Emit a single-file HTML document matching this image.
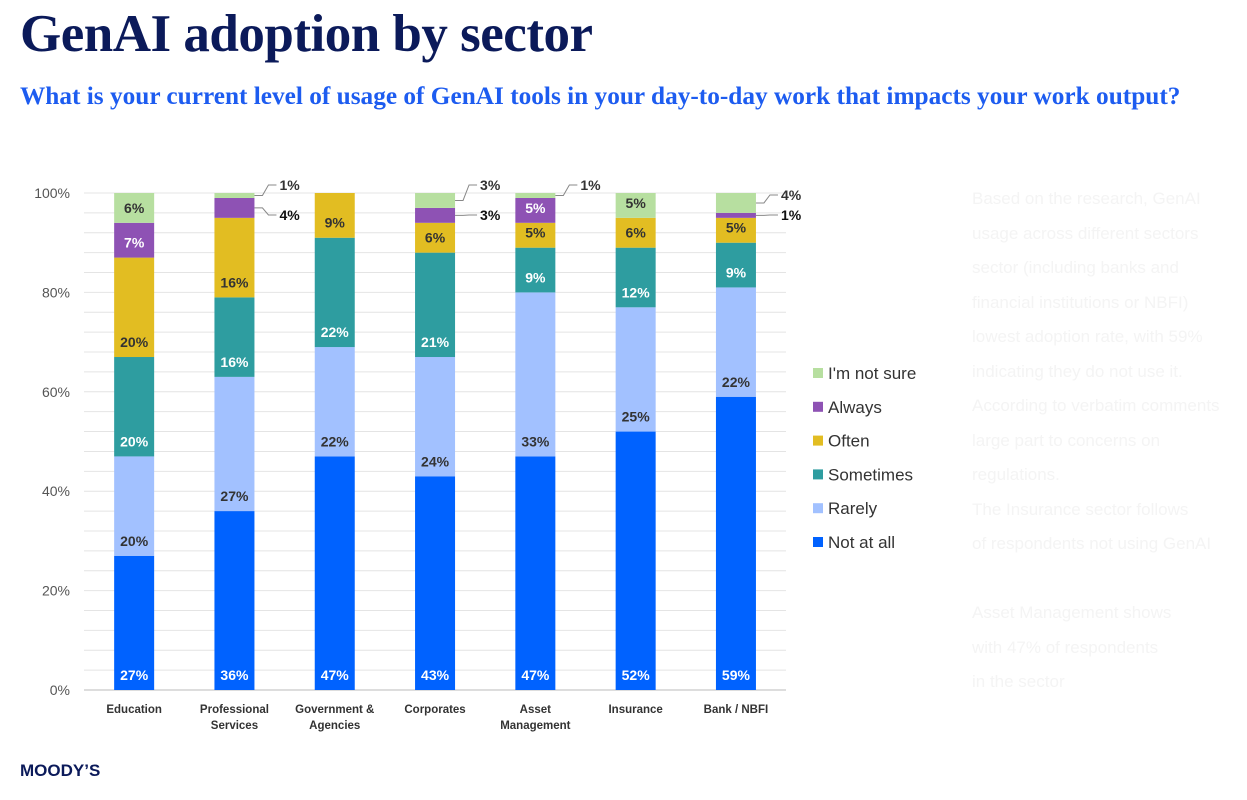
<!DOCTYPE html>
<html><head><meta charset="utf-8">
<style>
body{margin:0;width:1247px;height:800px;background:#fff;overflow:hidden;position:relative;font-family:"Liberation Sans",sans-serif}
#title{position:absolute;left:20px;top:4px;font:bold 53px "Liberation Serif",serif;color:#0b1a5a;letter-spacing:-0.5px}
#sub{position:absolute;left:20px;top:82px;font:bold 25.3px "Liberation Serif",serif;color:#1d5cf0}
#logo{position:absolute;left:20px;top:761px;font:bold 17px "Liberation Sans",sans-serif;color:#0b1a5a}
#side{position:absolute;left:972px;top:182px;width:290px;color:#f4f4f4;font-size:17px;line-height:34.5px;white-space:nowrap}
</style></head><body>
<div id="title">GenAI adoption by sector</div>
<div id="sub">What is your current level of usage of GenAI tools in your day-to-day work that impacts your work output?</div>
<div id="side">Based on the research, GenAI<br>usage across different sectors<br>sector (including banks and<br>financial institutions or NBFI)<br>lowest adoption rate, with 59%<br>indicating they do not use it.<br>According to verbatim comments<br>large part to concerns on<br>regulations.<br>The Insurance sector follows<br>of respondents not using GenAI<br><br>Asset Management shows<br>with 47% of respondents<br>in the sector</div>
<svg id="chart" width="1247" height="800" style="position:absolute;left:0;top:0"></svg>
<div id="logo">MOODY’S</div>
<script>
const categories=[["Education"],["Professional","Services"],["Government &","Agencies"],["Corporates"],["Asset","Management"],["Insurance"],["Bank / NBFI"]];
const seriesNames=["Not at all","Rarely","Sometimes","Often","Always","I'm not sure"];
const notAtAll=[27,36,47,43,47,52,59];
const rarely=[20,27,22,24,33,25,22];
const sometimes=[20,16,22,21,9,12,9];
const often=[20,16,9,6,5,6,5];
const always=[7,4,0,3,5,0,1];
const notSure=[6,1,0,3,1,5,4];
const yTicks=[0,20,40,60,80,100];
const series=[notAtAll,rarely,sometimes,often,always,notSure];
const colors=["#0062ff","#a2c1ff","#2e9da0","#e2bd22","#8e52b4","#b7dfa0"];
const labelColors=["#fff","#333","#fff","#333","#fff","#333"];
const NS="http://www.w3.org/2000/svg";
const svg=document.getElementById("chart");
const y0=690,y100=193,x0=84,band=100.3,bw=40;
function yv(v){return y0-(y0-y100)*v/100;}
function xc(i){return x0+band*(i+0.5);}
function mk(t,a){const e=document.createElementNS(NS,t);for(const k in a)e.setAttribute(k,a[k]);svg.appendChild(e);return e;}
for(let v=0;v<=100;v+=4){
  const g=mk("line",{x1:x0,x2:786,y1:yv(v),y2:yv(v),stroke:"#e4e4e4","stroke-width":1});
  
  
}
mk("line",{x1:x0,x2:786,y1:y0,y2:y0,stroke:"#bbb"});
yTicks.forEach(v=>{
  const t=mk("text",{x:70,y:yv(v)+5,"text-anchor":"end","font-size":14,fill:"#555"});
  t.textContent=v+"%";
  
  
});
categories.forEach((c,i)=>{
  c.forEach((ln,j)=>{
    const t=mk("text",{x:xc(i),y:713+j*16,"text-anchor":"middle","font-size":11.5,"font-weight":"bold",fill:"#333"});
    t.textContent=ln;
    
    
  });
  let cum=0,callouts=[];
  series.forEach((s,k)=>{
    const v=s[i];if(!v){return;}
    const r=mk("rect",{x:xc(i)-bw/2,y:yv(cum+v),width:bw,height:yv(cum)-yv(cum+v),fill:colors[k]});
    
    
    if(v>=5){
      const t=mk("text",{x:xc(i),y:yv(cum)-10,"text-anchor":"middle","font-size":14,"font-weight":"bold",fill:labelColors[k]});
      t.textContent=v+"%";
      
      
    } else callouts.push([k,v,cum]);
    cum+=v;
  });
  callouts.reverse().forEach((c,j)=>{
    const [k,v,base]=c;
    const sy=yv(base+v/2);
    const ly=j===0?(callouts.length===1||k===5&&v<=3?189:199):219;
    const lx=xc(i)+bw/2;
    const p=mk("path",{d:`M${lx},${sy} L${lx+8},${sy} L${lx+14},${ly-4} L${lx+22},${ly-4}`,stroke:"#888",fill:"none","stroke-width":1});
    
    
    const t=mk("text",{x:lx+25,y:ly+1,"font-size":14,"font-weight":"bold",fill:j===0?"#333":"#111"});
    t.textContent=v+"%";
    
    
  });
});
seriesNames.slice().reverse().forEach((n,j)=>{
  const k=5-j,ly=374+j*33.8;
  const r=mk("rect",{x:813,y:ly-6,width:10,height:10,fill:colors[k]});
  
  
  const t=mk("text",{x:828,y:ly+5,"font-size":17,fill:"#333"});
  t.textContent=n;
  
  
});
</script>
</body></html>
